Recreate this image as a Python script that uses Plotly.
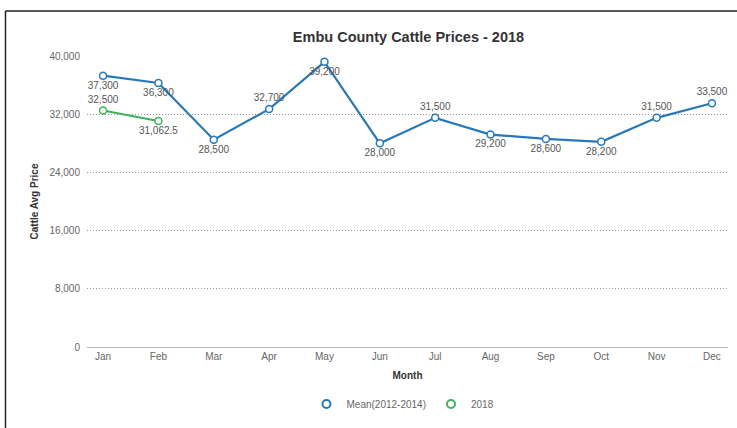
import plotly.graph_objects as go

months = ["Jan", "Feb", "Mar", "Apr", "May", "Jun", "Jul", "Aug", "Sep", "Oct", "Nov", "Dec"]
mean_vals = [37300, 36300, 28500, 32700, 39200, 28000, 31500, 29200, 28600, 28200, 31500, 33500]
mean_pos = ["bottom center", "bottom center", "bottom center", "top center", "bottom center",
            "bottom center", "top center", "bottom center", "bottom center", "bottom center",
            "top center", "top center"]
y2018_months = ["Jan", "Feb"]
y2018_vals = [32500, 31062.5]
y2018_pos = ["top center", "bottom center"]
y_ticks = [0, 8000, 16000, 24000, 32000, 40000]

def fmt(v):
    if float(v).is_integer():
        return f"{int(v):,}"
    return f"{v:,}"

FONT = "Liberation Sans, Arial, Helvetica, sans-serif"
BLUE = "#2878b6"
GREEN = "#3db35a"

fig = go.Figure()
fig.add_trace(go.Scatter(
    x=months, y=mean_vals, name="Mean(2012-2014)", mode="lines+markers+text",
    line=dict(color=BLUE, width=2.2), showlegend=False,
    marker=dict(symbol="circle", size=7, color="white", line=dict(color=BLUE, width=1.5)),
    text=[fmt(v) for v in mean_vals], textposition=mean_pos,
    textfont=dict(size=10, color="#555", family=FONT), cliponaxis=False,
))
fig.add_trace(go.Scatter(
    x=y2018_months, y=y2018_vals, name="2018", mode="lines+markers+text",
    line=dict(color=GREEN, width=2), showlegend=False,
    marker=dict(symbol="circle", size=7, color="white", line=dict(color=GREEN, width=1.5)),
    text=[fmt(v) for v in y2018_vals], textposition=y2018_pos,
    textfont=dict(size=10, color="#555", family=FONT), cliponaxis=False,
))
# legend-only entries (marker symbol only, like the reference)
for name, col in [("Mean(2012-2014)", BLUE), ("2018", GREEN)]:
    fig.add_trace(go.Scatter(
        x=[None], y=[None], name=name, mode="markers",
        marker=dict(symbol="circle", size=8, color="white", line=dict(color=col, width=2)),
    ))

L, R, T, B = 87, 9, 56, 81
W, H = 737, 428
pw, ph = W - L - R, H - T - B

def px(x):
    return (x - L) / pw

def py(y):
    return (H - B - y) / ph

fig.update_layout(
    width=W, height=H,
    margin=dict(l=L, r=R, t=T, b=B),
    paper_bgcolor="white", plot_bgcolor="white",
    font=dict(family=FONT, color="#666", size=10),
    title=dict(text="<b>Embu County Cattle Prices - 2018</b>", xref="paper", x=px(408.5),
               xanchor="center", y=1 - 37 / H, yanchor="middle",
               font=dict(size=14.5, color="#333")),
    showlegend=True,
    legend=dict(orientation="h", x=px(403), xanchor="center", y=py(404), yanchor="middle",
                font=dict(size=10, color="#666"), itemwidth=30),
    shapes=[
        dict(type="line", xref="paper", yref="paper", x0=px(5.5), x1=px(737), y0=py(11), y1=py(11),
             line=dict(color="#222", width=1.5)),
        dict(type="line", xref="paper", yref="paper", x0=px(5.5), x1=px(5.5), y0=py(11), y1=py(428),
             line=dict(color="#222", width=1.5)),
    ],
)
fig.update_xaxes(
    type="category", range=[-0.29, 11.29], showgrid=False,
    showline=True, linecolor="#bbb", linewidth=1, ticks="", tickfont=dict(size=10, color="#666"),
    title=dict(text="<b>Month</b>", font=dict(size=10, color="#333"), standoff=10),
    zeroline=False,
)
fig.update_yaxes(
    range=[0, 40000], tickvals=y_ticks, ticktext=[fmt(v) for v in y_ticks],
    showgrid=True, gridcolor="#999", griddash="1px,2px", gridwidth=1,
    zeroline=False, showline=False, ticks="", ticklabelstandoff=6,
    tickfont=dict(size=10, color="#666"),
    title=dict(text="<b>Cattle Avg Price</b>", font=dict(size=10, color="#333"), standoff=8),
)

fig.write_html("out.html", config={"displayModeBar": False},
               post_script="document.body.style.margin='0';")
